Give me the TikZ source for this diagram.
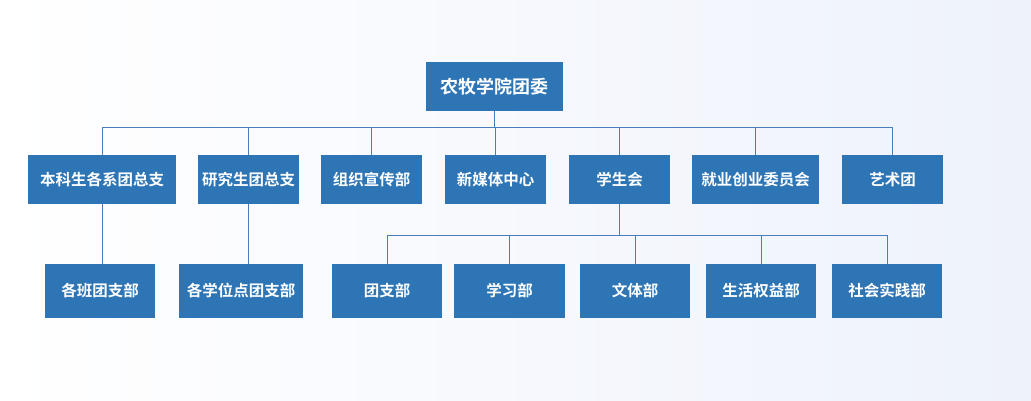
\documentclass[tikz,border=0pt]{standalone}
\usepackage{fontspec}
\setmainfont{Noto Sans CJK SC}[BoldFont={Noto Sans CJK SC Bold}]
\definecolor{boxc}{HTML}{2E75B6}
\definecolor{linec}{HTML}{4A7EBB}
\definecolor{bgl}{HTML}{EEF2FB}
\begin{document}
\begin{tikzpicture}[x=1pt,y=-1pt,
  box/.style={fill=boxc,text=white,font=\bfseries\fontsize{15.5}{17}\selectfont,inner sep=0pt,minimum height=49pt},
  sub/.style={box,minimum height=54pt},
  ln/.style={draw=linec,line width=0.8pt}]
\shade[left color=white,right color=bgl] (0,0) rectangle (1031,400);
\useasboundingbox (0,0) rectangle (1031,400);
\node[box,minimum width=137pt,font=\bfseries\fontsize{18}{20}\selectfont] (top) at (494.5,86.5) {农牧学院团委};
\node[box,minimum width=148pt] (a1) at (102,179.5) {本科生各系团总支};
\node[box,minimum width=101pt] (a2) at (248.5,179.5) {研究生团总支};
\node[box,minimum width=101pt] (a3) at (371.5,179.5) {组织宣传部};
\node[box,minimum width=101pt] (a4) at (495.5,179.5) {新媒体中心};
\node[box,minimum width=101pt] (a5) at (619.5,179.5) {学生会};
\node[box,minimum width=127pt] (a6) at (755.5,179.5) {就业创业委员会};
\node[box,minimum width=101pt] (a7) at (892.5,179.5) {艺术团};
\node[sub,minimum width=110pt] (b1) at (100,291) {各班团支部};
\node[sub,minimum width=124pt] (b2) at (241,291) {各学位点团支部};
\node[sub,minimum width=110pt] (c1) at (387,291) {团支部};
\node[sub,minimum width=111pt] (c2) at (509.5,291) {学习部};
\node[sub,minimum width=110pt] (c3) at (635,291) {文体部};
\node[sub,minimum width=110pt] (c4) at (761,291) {生活权益部};
\node[sub,minimum width=110pt] (c5) at (887,291) {社会实践部};
\coordinate (bus) at (494.5,127);
\draw[ln] (top.south) -- (bus);
\draw[ln] (a1.north |- bus) -- (a7.north |- bus);
\foreach \n in {a1,a2,a3,a4,a5,a6,a7} \draw[ln] (\n.north |- bus) -- (\n.north);
\draw[ln] (a1.south) -- (a1.south |- b1.north);
\draw[ln] (a2.south) -- (a2.south |- b2.north);
\coordinate (bus2) at (619.5,235);
\draw[ln] (a5.south) -- (bus2);
\draw[ln] (c1.north |- bus2) -- (c5.north |- bus2);
\foreach \n in {c1,c2,c3,c4,c5} \draw[ln] (\n.north |- bus2) -- (\n.north);
\end{tikzpicture}
\end{document}
